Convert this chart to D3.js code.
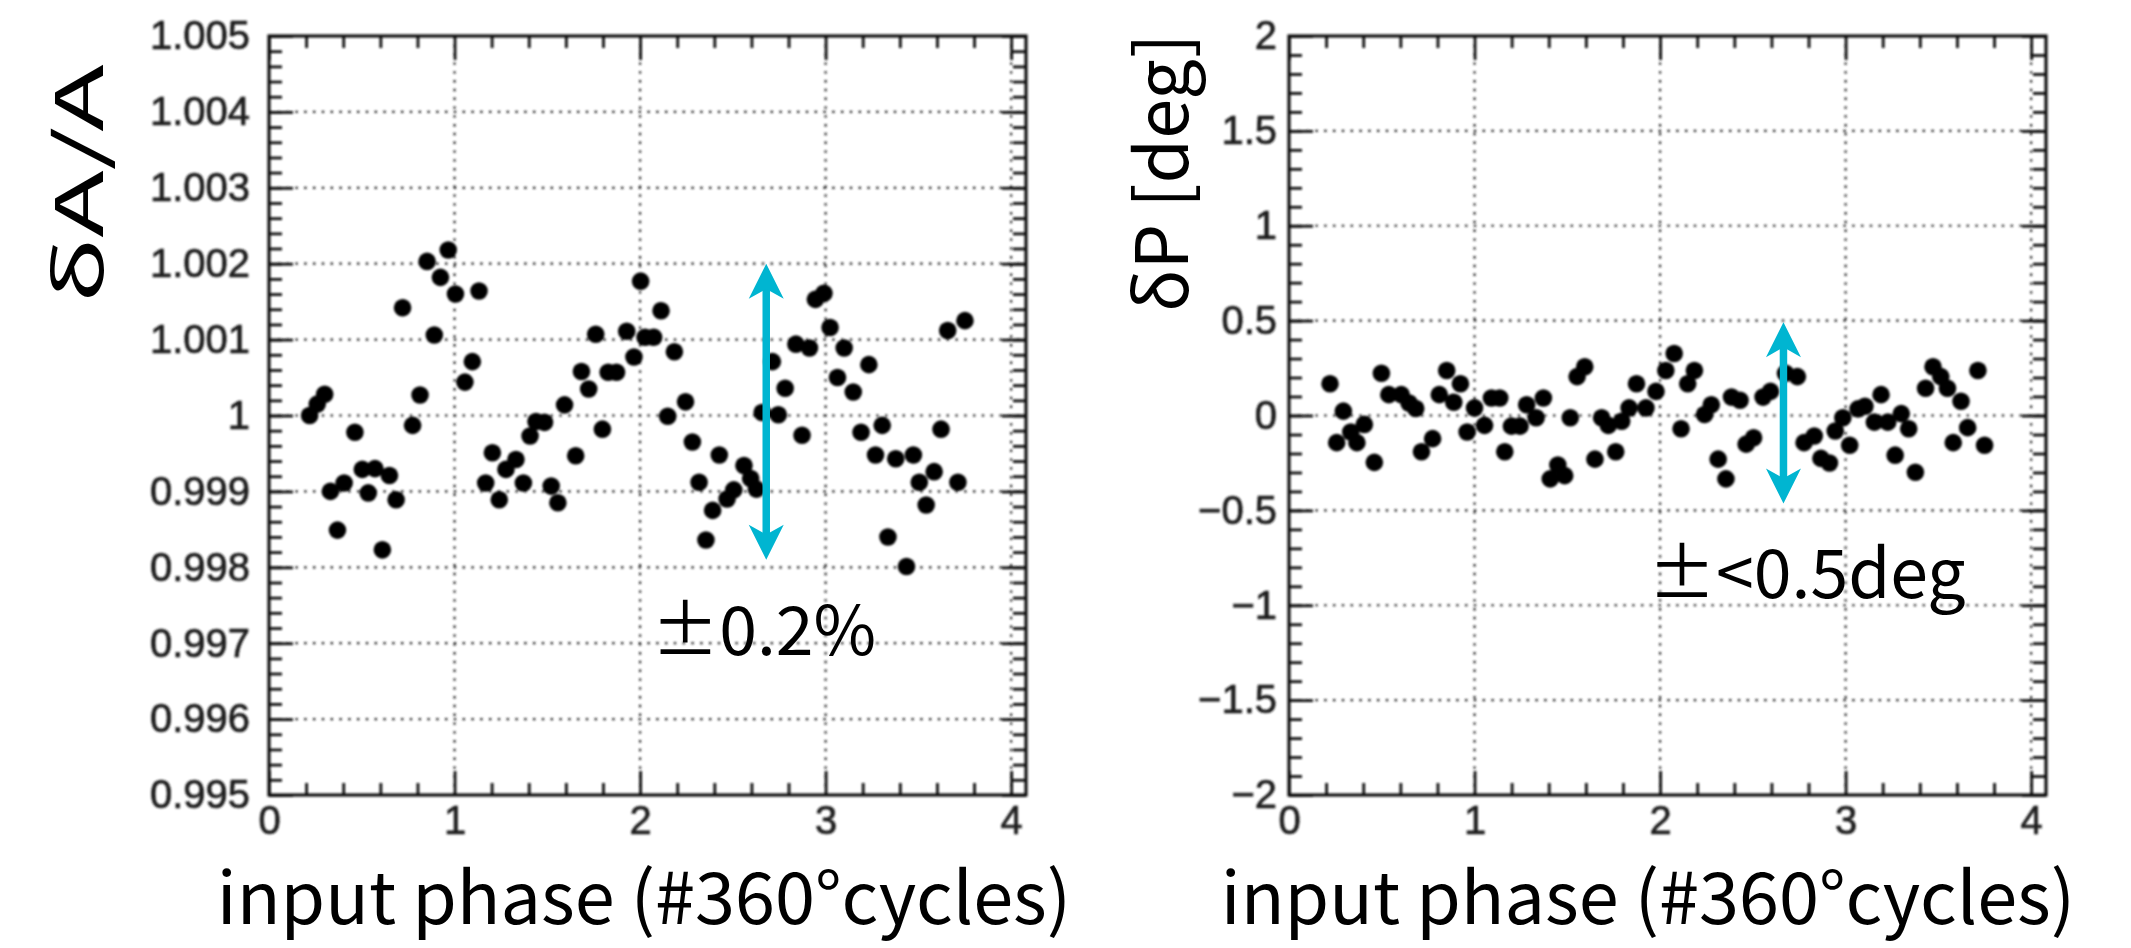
<!DOCTYPE html>
<html><head><meta charset="utf-8">
<script src="https://cdn.jsdelivr.net/npm/d3@7"></script>
<style>
body{margin:0;background:#fff;}
.cjk{font-family:"Noto Sans CJK JP","Noto Sans",sans-serif;font-weight:400;fill:#000;}
</style></head><body>
<svg id="c" width="2131" height="948"></svg>
<script>
// ---------- data ----------
const xTickValues = [0, 1, 2, 3, 4];
const xTickLabels = ["0", "1", "2", "3", "4"];

const ampTickValues = [0.995, 0.996, 0.997, 0.998, 0.999, 1.000, 1.001, 1.002, 1.003, 1.004, 1.005];
const ampTickLabels = ["0.995", "0.996", "0.997", "0.998", "0.999", "1", "1.001", "1.002", "1.003", "1.004", "1.005"];

const phaseTickValues = [-2, -1.5, -1, -0.5, 0, 0.5, 1, 1.5, 2];
const phaseTickLabels = ["\u22122", "\u22121.5", "\u22121", "\u22120.5", "0", "0.5", "1", "1.5", "2"];

const ampX = [0.219,0.26,0.30,0.331,0.369,0.405,0.463,0.503,0.535,0.571,0.611,0.649,0.685,0.720,0.774,0.814,0.852,0.891,0.924,0.966,
  1.005,1.056,1.096,1.132,1.168,1.204,1.241,1.277,1.331,1.371,1.407,1.439,1.485,1.521,1.557,1.593,1.653,1.684,1.723,1.761,1.797,1.828,1.873,1.928,1.967,
  2.003,2.027,2.073,2.113,2.149,2.185,2.245,2.282,2.318,2.355,2.391,2.427,2.469,2.505,2.560,2.596,2.627,2.658,2.713,2.745,2.782,2.840,2.873,2.913,2.945,2.991,
  3.024,3.064,3.100,3.149,3.191,3.233,3.269,3.305,3.336,3.378,3.436,3.473,3.505,3.542,3.585,3.622,3.658,3.713,3.751];
const ampY = [1.0000,1.00015,1.00028,0.99900,0.99849,0.99911,0.99978,0.99929,0.99898,0.99930,0.99823,0.99921,0.99889,1.00142,0.99987,1.00027,1.00203,1.00106,1.00182,1.00218,
  1.00160,1.00044,1.00071,1.00164,0.99911,0.99951,0.99889,0.99929,0.99942,0.99911,0.99973,0.99992,0.99991,0.99907,0.99885,1.00014,0.99947,1.00058,1.00035,1.00107,0.99982,1.00057,1.00057,1.00111,1.00077,
  1.00177,1.00103,1.00103,1.00138,0.99999,1.00084,1.00018,0.99965,0.99912,0.99836,0.99875,0.99948,0.99890,0.99902,0.99934,0.99917,0.99903,1.00004,1.00071,1.00001,1.00036,1.00094,0.99974,1.00089,1.00153,1.00161,
  1.00116,1.00050,1.00089,1.00031,0.99978,1.00067,0.99948,0.99987,0.99840,0.99943,0.99801,0.99948,0.99912,0.99882,0.99926,0.99982,1.00112,0.99912,1.00125];

const phaseX = [0.221,0.257,0.293,0.333,0.366,0.406,0.460,0.498,0.538,0.605,0.647,0.683,0.714,0.774,0.810,0.850,0.888,0.924,0.960,
  1.000,1.054,1.091,1.136,1.163,1.199,1.245,1.281,1.332,1.371,1.408,1.449,1.486,1.516,1.553,1.594,1.649,1.685,1.721,1.761,1.793,1.833,1.873,1.924,1.978,
  2.031,2.076,2.113,2.149,2.185,2.240,2.276,2.313,2.355,2.385,2.431,2.464,2.504,2.555,2.595,2.676,2.740,2.776,2.831,2.867,2.913,2.944,2.985,
  3.022,3.067,3.104,3.155,3.191,3.227,3.267,3.300,3.340,3.376,3.431,3.471,3.513,3.549,3.580,3.622,3.658,3.713,3.749];
const phaseY = [0.167,-0.143,0.023,-0.087,-0.143,-0.047,-0.247,0.223,0.110,0.110,0.066,0.037,-0.191,-0.122,0.110,0.237,0.070,0.167,-0.087,
  0.040,-0.052,0.092,0.092,-0.191,-0.056,-0.056,0.057,-0.012,0.092,-0.334,-0.261,-0.317,-0.012,0.205,0.257,-0.230,-0.012,-0.052,-0.191,-0.030,0.040,0.167,0.040,0.127,
  0.237,0.327,-0.070,0.167,0.237,0.005,0.057,-0.230,-0.334,0.097,0.080,-0.151,-0.117,0.097,0.127,0.223,0.205,-0.143,-0.108,-0.226,-0.250,-0.082,-0.012,
  -0.157,0.035,0.049,-0.035,0.110,-0.035,-0.209,0.010,-0.070,-0.299,0.144,0.257,0.205,0.144,-0.143,0.075,-0.064,0.237,-0.157];

// annotations (data coordinates)
const ampArrow = {x: 2.68, y1: 1.002, y2: 0.9981, label: "\u00b10.2%", lx: 2.06, ly: 0.99684};
const phaseArrow = {x: 2.665, y1: 0.492, y2: -0.464, label: "\u00b1<0.5deg", lx: 1.935, ly: -0.962};

// ---------- drawing ----------
const svg = d3.select("#c");
const defs = svg.append("defs");
defs.append("filter").attr("id", "soft").attr("x", "-5%").attr("y", "-5%").attr("width", "110%").attr("height", "110%")
  .append("feGaussianBlur").attr("stdDeviation", 0.9);

const TOP = 36, BOTTOM = 795;
const xDomain = [0, 4.08];
const xMinor = d3.range(0, 4.0001, 0.2).filter(v => Math.abs(v - Math.round(v)) > 1e-6);

function drawPanel(o) {
  const w = o.x1 - o.x0, h = BOTTOM - TOP;
  const g = svg.append("g").attr("transform", `translate(${o.x0},${TOP})`);
  const x = d3.scaleLinear().domain(xDomain).range([0, w]);
  const y = d3.scaleLinear().domain(o.yDomain).range([h, 0]);
  const root = g.append("g").attr("filter", "url(#soft)");

  // grid
  const grid = root.append("g").attr("stroke", "#222").attr("stroke-width", 2.2).attr("stroke-dasharray", "2.4,6.4");
  grid.selectAll("line.gx").data(xTickValues.filter(v => v > 0)).join("line").attr("class", "gx")
    .attr("x1", d => x(d)).attr("x2", d => x(d)).attr("y1", 0).attr("y2", h);
  grid.selectAll("line.gy").data(o.yTicks).join("line").attr("class", "gy")
    .attr("x1", 0).attr("x2", w).attr("y1", d => y(d)).attr("y2", d => y(d));

  // axes
  const ax = (axis, tr) => {
    const a = root.append("g").attr("transform", tr || null).call(axis);
    a.select(".domain").remove();
    a.selectAll(".tick line").attr("stroke", "#111").attr("stroke-width", 2.8);
    a.selectAll("text").attr("font-family", "'Liberation Sans', Arial, sans-serif").attr("font-size", 40)
      .attr("fill", "#1e1e1e").attr("stroke", "#1e1e1e").attr("stroke-width", 0.7);
    return a;
  };
  ax(d3.axisBottom(x).tickValues(xTickValues).tickFormat((d, i) => xTickLabels[i]).tickSize(-24).tickPadding(11), `translate(0,${h})`);
  ax(d3.axisBottom(x).tickValues(xMinor).tickFormat("").tickSize(-12), `translate(0,${h})`);
  ax(d3.axisTop(x).tickValues(xTickValues).tickFormat("").tickSize(-24));
  ax(d3.axisTop(x).tickValues(xMinor).tickFormat("").tickSize(-12));
  ax(d3.axisLeft(y).tickValues(o.yTicks).tickFormat((d, i) => o.yLabels[i]).tickSize(-24).tickPadding(o.pad));
  ax(d3.axisLeft(y).tickValues(o.yMinor).tickFormat("").tickSize(-13));
  ax(d3.axisRight(y).tickValues(o.yTicks).tickFormat("").tickSize(-24), `translate(${w},0)`);
  ax(d3.axisRight(y).tickValues(o.yMinor).tickFormat("").tickSize(-13), `translate(${w},0)`);

  // frame
  root.append("rect").attr("width", w).attr("height", h).attr("fill", "none").attr("stroke", "#111").attr("stroke-width", 3.2);

  // points
  root.append("g").selectAll("circle").data(d3.zip(o.xs, o.ys)).join("circle")
    .attr("cx", d => x(d[0])).attr("cy", d => y(d[1])).attr("r", 8.8).attr("fill", "#000");

  // cyan double arrow
  const a = o.arrow, ax0 = x(a.x), ya = y(a.y1), yb = y(a.y2);
  const hl = 35, hw = 17.5, col = "#00b5d1";
  g.append("line").attr("x1", ax0).attr("x2", ax0).attr("y1", ya + hl * 0.6).attr("y2", yb - hl * 0.6)
    .attr("stroke", col).attr("stroke-width", 7.5);
  const head = (tipY, dir) => `M${ax0},${tipY} L${ax0 + hw},${tipY + dir * hl} L${ax0},${tipY + dir * hl * 0.72} L${ax0 - hw},${tipY + dir * hl} Z`;
  g.append("path").attr("d", head(ya, 1)).attr("fill", col);
  g.append("path").attr("d", head(yb, -1)).attr("fill", col);

  // annotation text
  g.append("text").attr("class", "cjk").attr("x", x(a.lx)).attr("y", y(a.ly)).attr("font-size", 68).text(a.label);

  // titles
  svg.append("text").attr("class", "cjk").attr("x", o.xtX).attr("y", 924).attr("text-anchor", "middle")
    .attr("font-size", 72).text("input phase (#360\u00b0cycles)");
  svg.append("text").attr("class", "cjk").attr("transform", `translate(${o.ytX},${o.ytY}) rotate(-90) scale(${o.ytStretch},1)`)
    .attr("text-anchor", "middle").attr("font-size", o.ytSize).text(o.yTitle);
}

drawPanel({
  x0: 269, x1: 1026, yDomain: [0.995, 1.005], yTicks: ampTickValues, yLabels: ampTickLabels,
  yMinor: d3.range(0.995, 1.00501, 0.0002), pad: 19, xs: ampX, ys: ampY, arrow: ampArrow,
  xtX: 644, ytX: 103, ytY: 184, ytSize: 66, ytStretch: 1.68, yTitle: "\u03b4A/A"
});
drawPanel({
  x0: 1289, x1: 2046, yDomain: [-2, 2], yTicks: phaseTickValues, yLabels: phaseTickLabels,
  yMinor: d3.range(-2, 2.0001, 0.1), pad: 12, xs: phaseX, ys: phaseY, arrow: phaseArrow,
  xtX: 1648, ytX: 1188, ytY: 173, ytSize: 72, ytStretch: 1.0, yTitle: "\u03b4P [deg]"
});
</script>
</body></html>
